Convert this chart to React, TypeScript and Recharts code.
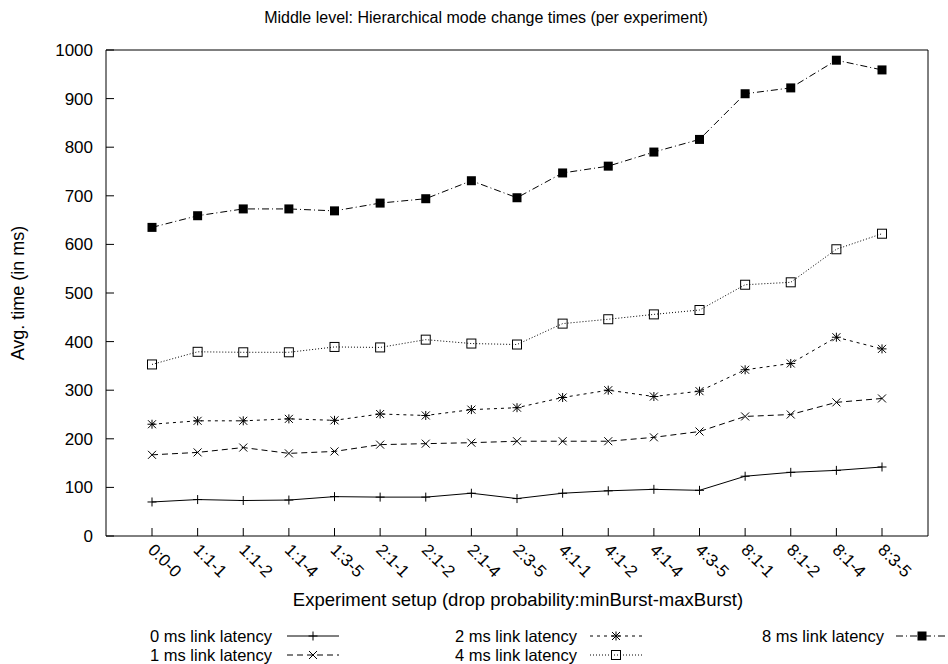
import React from 'react';
import { LineChart, Line, XAxis, YAxis, Legend } from 'recharts';

const categories = ['0:0-0', '1:1-1', '1:1-2', '1:1-4', '1:3-5', '2:1-1', '2:1-2', '2:1-4', '2:3-5', '4:1-1', '4:1-2', '4:1-4', '4:3-5', '8:1-1', '8:1-2', '8:1-4', '8:3-5'];
const latency0 = [70, 75, 73, 74, 81, 80, 80, 88, 77, 88, 93, 96, 94, 123, 131, 135, 142];
const latency1 = [167, 172, 182, 170, 174, 188, 190, 192, 195, 195, 195, 203, 215, 246, 250, 275, 283];
const latency2 = [230, 237, 237, 241, 238, 251, 248, 260, 264, 285, 300, 287, 298, 342, 355, 409, 385];
const latency4 = [353, 379, 378, 378, 389, 388, 404, 396, 394, 437, 446, 456, 465, 517, 522, 590, 622];
const latency8 = [635, 659, 673, 673, 669, 685, 694, 731, 696, 747, 761, 790, 816, 910, 922, 979, 959];
const yTicks = [0, 100, 200, 300, 400, 500, 600, 700, 800, 900, 1000];
const seriesNames = ['0 ms link latency', '1 ms link latency', '2 ms link latency', '4 ms link latency', '8 ms link latency'];
const title = 'Middle level: Hierarchical mode change times (per experiment)';
const xLabel = 'Experiment setup (drop probability:minBurst-maxBurst)';
const yLabel = 'Avg. time (in ms)';

const FONT = "'Liberation Sans', Arial, Helvetica, sans-serif";
const FS = 17;
const W = 948;
const H = 664;

type Kind = 'plus' | 'cross' | 'star' | 'box' | 'fbox';

const Marker = ({ kind, cx, cy }: { kind: Kind; cx: number; cy: number }) => {
  const s = 4.5;
  const c = 4;
  const stroke = '#000';
  if (kind === 'plus') {
    return (
      <g stroke={stroke} strokeWidth={1}>
        <line x1={cx - s} y1={cy} x2={cx + s} y2={cy} />
        <line x1={cx} y1={cy - s} x2={cx} y2={cy + s} />
      </g>
    );
  }
  if (kind === 'cross') {
    return (
      <g stroke={stroke} strokeWidth={1}>
        <line x1={cx - c} y1={cy - c} x2={cx + c} y2={cy + c} />
        <line x1={cx - c} y1={cy + c} x2={cx + c} y2={cy - c} />
      </g>
    );
  }
  if (kind === 'star') {
    return (
      <g stroke={stroke} strokeWidth={1}>
        <line x1={cx - s} y1={cy} x2={cx + s} y2={cy} />
        <line x1={cx} y1={cy - s} x2={cx} y2={cy + s} />
        <line x1={cx - c} y1={cy - c} x2={cx + c} y2={cy + c} />
        <line x1={cx - c} y1={cy + c} x2={cx + c} y2={cy - c} />
      </g>
    );
  }
  if (kind === 'box') {
    return <rect x={cx - 4.5} y={cy - 4.5} width={9} height={9} fill="none" stroke={stroke} strokeWidth={1} />;
  }
  return <rect x={cx - 4.5} y={cy - 4.5} width={9} height={9} fill="#000" stroke="none" />;
};

const makeDot = (kind: Kind) => (props: any) => {
  const { cx, cy, index } = props;
  if (cx == null || cy == null) return <g key={index} />;
  return <Marker key={index} kind={kind} cx={cx} cy={cy} />;
};

const series = [
  { key: 'l0', name: seriesNames[0], values: latency0, kind: 'plus' as Kind, dash: undefined as string | undefined },
  { key: 'l1', name: seriesNames[1], values: latency1, kind: 'cross' as Kind, dash: '6 4' },
  { key: 'l2', name: seriesNames[2], values: latency2, kind: 'star' as Kind, dash: '3 4' },
  { key: 'l4', name: seriesNames[3], values: latency4, kind: 'box' as Kind, dash: '1 2' },
  { key: 'l8', name: seriesNames[4], values: latency8, kind: 'fbox' as Kind, dash: '7 3 1 3' },
];

const XTick = (props: any) => {
  const { x, y, payload } = props;
  const ox = x - 5;
  const oy = y + 15;
  return (
    <text x={ox} y={oy} transform={`rotate(45, ${ox}, ${oy})`} textAnchor="start" fontFamily={FONT} fontSize={FS} fill="#000">
      {payload.value}
    </text>
  );
};

const YTick = (props: any) => {
  const { x, y, payload } = props;
  return (
    <text x={x} y={y} dy={6} textAnchor="end" fontFamily={FONT} fontSize={FS} fill="#000">
      {payload.value}
    </text>
  );
};

const LegendBox = () => {
  const top = 620;
  const textRight = [272, 577, 884];
  const sampleCenter = [313, 616, 922];
  const rowY = [636, 655];
  const slots = [
    [0, 0],
    [0, 1],
    [1, 0],
    [1, 1],
    [2, 0],
  ];
  return (
    <svg width={W} height={44} style={{ display: 'block' }}>
      {series.map((s, i) => {
        const [col, row] = slots[i];
        const cy = rowY[row] - top;
        const cx = sampleCenter[col];
        return (
          <g key={s.key}>
            <text x={textRight[col]} y={cy + 6} textAnchor="end" fontFamily={FONT} fontSize={16.5} fill="#000">
              {s.name}
            </text>
            <line x1={cx - 26} y1={cy} x2={cx + 26} y2={cy} stroke="#000" strokeWidth={1} strokeDasharray={s.dash} />
            <Marker kind={s.kind} cx={cx} cy={cy} />
          </g>
        );
      })}
    </svg>
  );
};

export default function App() {
  const data = categories.map((c, i) => ({
    label: c,
    l0: latency0[i],
    l1: latency1[i],
    l2: latency2[i],
    l4: latency4[i],
    l8: latency8[i],
  }));
  return (
    <div style={{ position: 'absolute', left: 0, top: 0, width: W, height: H, background: '#fff' }}>
      <LineChart width={W} height={H} data={data} margin={{ top: 49, right: 19, bottom: 0, left: 0 }}>
        <XAxis
          xAxisId="b"
          dataKey="label"
          orientation="bottom"
          height={128}
          padding={{ left: 46, right: 46 }}
          interval={0}
          tickSize={-8}
          tickMargin={8}
          tick={<XTick />}
          axisLine={{ stroke: '#000', strokeWidth: 1 }}
          tickLine={{ stroke: '#000' }}
        />
        <XAxis
          xAxisId="t"
          dataKey="label"
          orientation="top"
          height={1}
          padding={{ left: 46, right: 46 }}
          interval={0}
          tickSize={-8}
          tick={false}
          axisLine={{ stroke: '#000', strokeWidth: 1 }}
          tickLine={{ stroke: '#000' }}
        />
        <YAxis
          yAxisId="l"
          orientation="left"
          width={106}
          type="number"
          domain={[0, 1000]}
          ticks={yTicks}
          interval={0}
          tickSize={-8}
          tickMargin={21}
          tick={<YTick />}
          axisLine={{ stroke: '#000', strokeWidth: 1 }}
          tickLine={{ stroke: '#000' }}
        />
        <YAxis
          yAxisId="r"
          orientation="right"
          width={1}
          type="number"
          domain={[0, 1000]}
          ticks={yTicks}
          interval={0}
          tickSize={-8}
          tick={false}
          axisLine={{ stroke: '#000', strokeWidth: 1 }}
          tickLine={{ stroke: '#000' }}
        />
        {series.map((s) => (
          <Line
            key={s.key}
            xAxisId="b"
            yAxisId="l"
            dataKey={s.key}
            name={s.name}
            type="linear"
            stroke="#000"
            strokeWidth={1}
            strokeDasharray={s.dash}
            dot={makeDot(s.kind)}
            activeDot={false}
            isAnimationActive={false}
          />
        ))}
        <Legend
          layout="vertical"
          align="center"
          verticalAlign="middle"
          wrapperStyle={{ position: 'absolute', left: 0, top: 620, width: W, height: 44 }}
          content={() => <LegendBox />}
        />
        <text x={486} y={23} textAnchor="middle" fontFamily={FONT} fontSize={16} fill="#000">
          {title}
        </text>
        <text x={518} y={606} textAnchor="middle" fontFamily={FONT} fontSize={18.5} fill="#000">
          {xLabel}
        </text>
        <text x={24} y={293} textAnchor="middle" transform="rotate(-90, 24, 293)" fontFamily={FONT} fontSize={18} fill="#000">
          {yLabel}
        </text>
      </LineChart>
    </div>
  );
}
